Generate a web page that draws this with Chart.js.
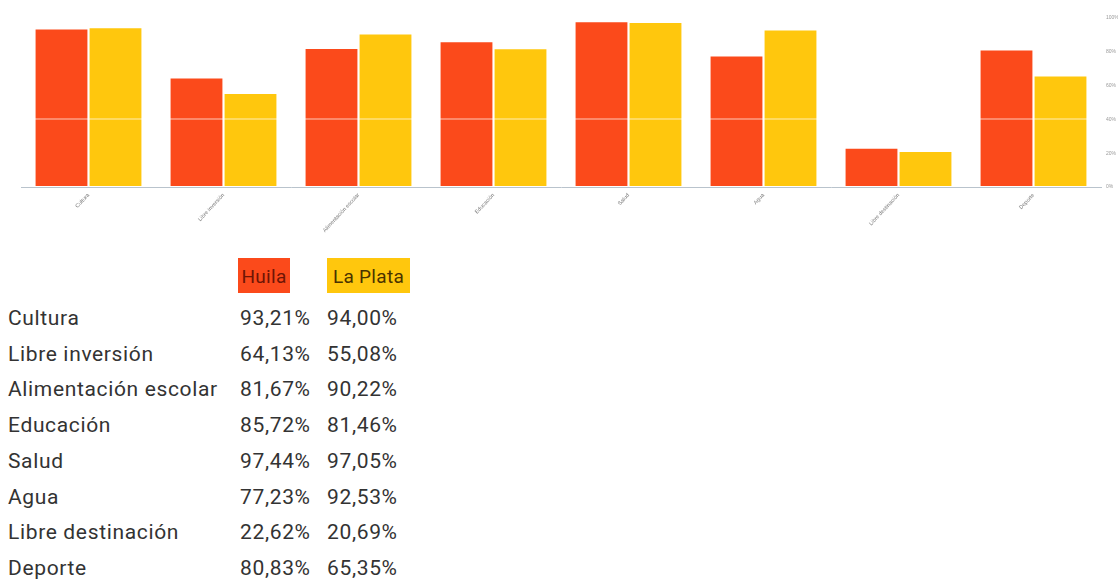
<!DOCTYPE html>
<html>
<head>
<meta charset="utf-8">
<script src="https://cdn.jsdelivr.net/npm/chart.js@4/dist/chart.umd.min.js"></script>
<style>
  body { margin: 0; background: #fff; width: 1118px; height: 579px; overflow: hidden; position: relative; }
  #wrap { position: absolute; left: 0; top: 0; width: 1118px; height: 255px; }
  #tbl { position: absolute; left: 0; top: 0; font-family: Roboto, sans-serif; font-size: 21px; letter-spacing: 0.65px; color: #333; }
  .cell { position: absolute; white-space: nowrap; line-height: 26px; }
  .hdr { position: absolute; top: 258px; height: 35px; line-height: 37px; font-size: 19px; letter-spacing: 0.3px; }
</style>
</head>
<body>
<div id="wrap"><canvas id="barChart"></canvas></div>
<div id="tbl"></div>
<script>
const categories = ["Cultura", "Libre inversión", "Alimentación escolar", "Educación", "Salud", "Agua", "Libre destinación", "Deporte"];
const huila = [93.21, 64.13, 81.67, 85.72, 97.44, 77.23, 22.62, 80.83];
const laPlata = [94.00, 55.08, 90.22, 81.46, 97.05, 92.53, 20.69, 65.35];
const seriesNames = ["Huila", "La Plata"];
const yTicks = [0, 20, 40, 60, 80, 100];

const red = "#fb4a1b";
const yellow = "#ffc70d";

const ctx = document.getElementById("barChart");

new Chart(ctx, {
  type: "bar",
  data: {
    labels: categories,
    datasets: [
      { label: seriesNames[0], data: huila, backgroundColor: red, categoryPercentage: 0.8, barPercentage: 0.96 },
      { label: seriesNames[1], data: laPlata, backgroundColor: yellow, categoryPercentage: 0.8, barPercentage: 0.96 },
    ],
  },
  options: {
    responsive: true,
    maintainAspectRatio: false,
    animation: false,
    layout: { padding: { left: 21, top: 18, right: 0, bottom: 0 } },
    plugins: { legend: { display: false }, tooltip: { enabled: false } },
    scales: {
      x: {
        grid: { display: false, drawTicks: false },
        border: { color: "#b9c3cc", width: 1 },
        ticks: { font: { size: 5.5 }, color: "#777", maxRotation: 47, minRotation: 47, padding: 5 },
        afterFit: (s) => { s.height = 68; },
      },
      y: {
        position: "right",
        min: 0,
        max: 100,
        afterBuildTicks: (s) => { s.ticks = yTicks.map((v) => ({ value: v })); },
        grid: {
          z: 1,
          drawTicks: false,
          color: (c) => (c.tick && c.tick.value === 40 ? "rgba(255,255,255,0.35)" : "rgba(0,0,0,0)"),
          lineWidth: 2,
        },
        border: { display: false },
        ticks: { font: { size: 5 }, color: "#999", padding: 5, callback: (v) => v + "%" },
        afterFit: (s) => { s.width = 17; },
      },
    },
  },
});

// table below the chart
const tbl = document.getElementById("tbl");
const fmt = (v) => v.toFixed(2).replace(".", ",") + "%";
const rowTop = 305;
const rowH = 35.7;
categories.forEach((c, i) => {
  const y = rowTop + i * rowH;
  [[c, 8], [fmt(huila[i]), 240], [fmt(laPlata[i]), 327]].forEach(([t, x]) => {
    const d = document.createElement("div");
    d.className = "cell";
    d.style.left = x + "px";
    d.style.top = y + "px";
    d.textContent = t;
    tbl.appendChild(d);
  });
});
[[seriesNames[0], 238, 52, red, "#6e1505"], [seriesNames[1], 327, 83, yellow, "#4a3300"]].forEach(([t, x, w, bg, fg]) => {
  const d = document.createElement("div");
  d.className = "hdr";
  d.style.left = x + "px";
  d.style.width = w + "px";
  d.style.textAlign = "center";
  d.style.background = bg;
  d.style.color = fg;
  d.textContent = t;
  tbl.appendChild(d);
});
</script>
</body>
</html>
